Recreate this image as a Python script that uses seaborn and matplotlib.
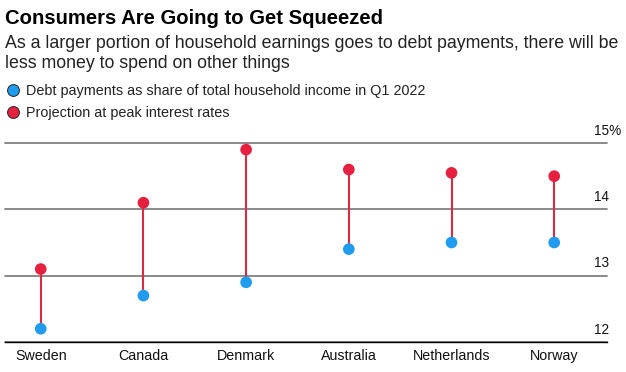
"""
Debt payments vs. projection at peak interest rates (dumbbell chart)
"""

# %% Imports
import numpy as np
import pandas as pd
import seaborn as sns
import matplotlib.pyplot as plt
from matplotlib.lines import Line2D

# %% Data
countries = ['Sweden', 'Canada', 'Denmark', 'Australia', 'Netherlands', 'Norway']
debt_q1_2022 = [12.2, 12.7, 12.9, 13.4, 13.5, 13.5]
peak_projection = [13.1, 14.1, 14.9, 14.6, 14.55, 14.5]
series_labels = ['Debt payments as share of total household income in Q1 2022',
                 'Projection at peak interest rates']
y_ticks = [12, 13, 14, 15]
y_tick_labels = ['12', '13', '14', '15%']

df = pd.DataFrame({'country': countries * 2,
                   'value': debt_q1_2022 + peak_projection,
                   'series': [series_labels[0]] * 6 + [series_labels[1]] * 6})

blue = '#1f9bf0'
red = '#e6213f'
palette = {series_labels[0]: blue, series_labels[1]: red}

# %% Plot
sns.set_style('white')
plt.rcParams['font.family'] = ['Liberation Sans', 'DejaVu Sans']

fig = plt.figure(figsize=(6.26, 3.72), dpi=100)
ax = fig.add_axes([5 / 626, 30 / 372, 602 / 626, 199 / 372])

# stems first, dots on top
ax.vlines(np.arange(len(countries)), debt_q1_2022, peak_projection, color='#dc2a45', lw=1.5, zorder=2)
sns.stripplot(data=df, x='country', y='value', hue='series', order=countries, palette=palette,
              jitter=False, size=8.4, linewidth=0, ax=ax, zorder=3, clip_on=False, legend=False)

ax.set_xlim(-0.348, 5.514)
ax.set_ylim(12, 15)
ax.set_xlabel('')
ax.set_ylabel('')

# grid + axis
ax.set_yticks(y_ticks)
ax.yaxis.grid(True, color='#808080', lw=1.3)
for gl in ax.get_ygridlines():
    gl.set_clip_on(False)
for s in ['top', 'left', 'right']:
    ax.spines[s].set_visible(False)
ax.spines['bottom'].set_color('black')
ax.spines['bottom'].set_linewidth(1.0)
ax.spines['bottom'].set_zorder(4)
ax.tick_params(axis='y', left=False, labelleft=False)
ax.tick_params(axis='x', length=0, pad=5, labelsize=10.3, labelcolor='#111')

# y labels sit above their gridlines, on the right
for v, lab in zip(y_ticks, y_tick_labels):
    ax.annotate(lab, xy=(0.9784, v), xycoords=ax.get_yaxis_transform(), xytext=(0, 6),
                textcoords='offset points', ha='left', va='baseline', fontsize=9.8, color='#111')

# %% Titles
fig.text(5 / 626, 1 - 24 / 372, 'Consumers Are Going to Get Squeezed', fontsize=14.6,
         fontweight='bold', va='baseline', ha='left', color='black')
fig.text(5 / 626, 1 - 47.7 / 372,
         'As a larger portion of household earnings goes to debt payments, there will be',
         fontsize=12.8, va='baseline', ha='left', color='#222')
fig.text(5 / 626, 1 - 68.3 / 372, 'less money to spend on other things',
         fontsize=12.8, va='baseline', ha='left', color='#222')

# %% Legend
handles = [Line2D([], [], marker='o', linestyle='', markersize=8.5, markerfacecolor=palette[l],
                  markeredgecolor='#222', markeredgewidth=0.7) for l in series_labels]
fig.legend(handles, series_labels, loc='upper left', bbox_to_anchor=(7.5 / 626, 1 - 84.5 / 372),
           frameon=False, borderpad=0, borderaxespad=0, handlelength=0.8, handletextpad=0.45,
           labelspacing=0.5, fontsize=10.4, labelcolor='#222')

plt.savefig('out.png', dpi=100)
